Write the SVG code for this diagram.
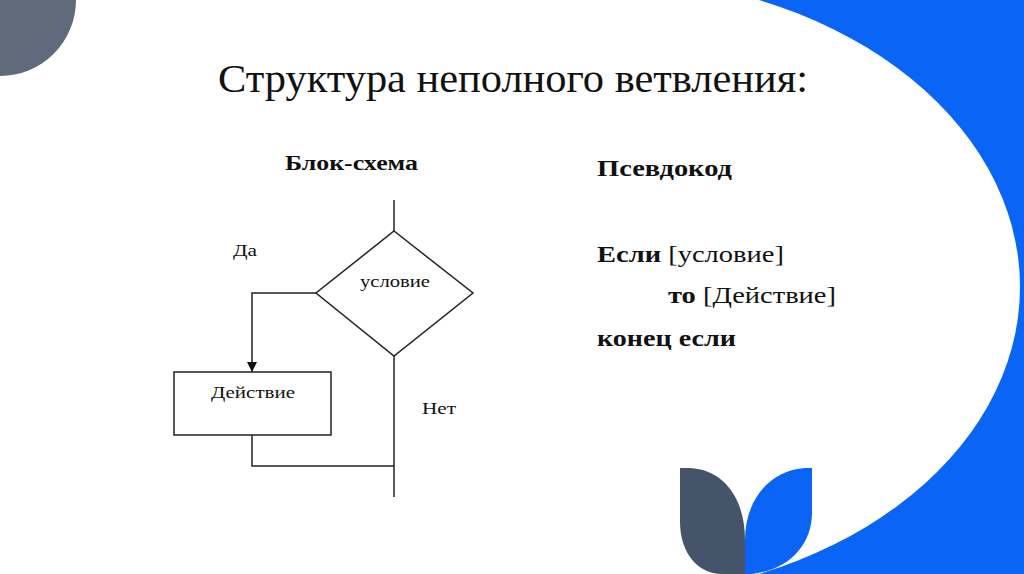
<svg xmlns="http://www.w3.org/2000/svg" width="1024" height="574" viewBox="0 0 1024 574">
<style>
.t{font-family:"Liberation Serif",serif;fill:#111}
.b{font-weight:bold}
.ln{stroke:#222;stroke-width:1.5;fill:none}
.sh{stroke:#222;stroke-width:1.5;fill:#fff}
</style>
<defs><marker id="ar" markerWidth="10" markerHeight="10" refX="10" refY="5" orient="auto" markerUnits="userSpaceOnUse"><path d="M0,0 L10,5 L0,10 Z" fill="#111"/></marker></defs>
<rect width="1024" height="574" fill="#fff"/>
<rect x="650" y="0" width="374" height="574" fill="#0a64f5"/>
<ellipse cx="600" cy="287" rx="420" ry="310" fill="#fff"/>
<rect x="0" y="0" width="650" height="574" fill="#fff"/>
<path d="M0,0 H76 A76,76 0 0 1 0,76 Z" fill="#5f6b7a"/>
<path d="M680,468 H690 C725,470 745,500 745,540 V574 H722 C697,574 680,552 680,522 Z" fill="#465469"/>
<path d="M812,468 V512 C812,546 788,570 752,574 H745 V540 C745,500 770,470 805,468 Z" fill="#0a64f5"/>
<text class="t" x="218" y="92" font-size="41" textLength="590" lengthAdjust="spacingAndGlyphs">Структура неполного ветвления:</text>
<text class="t b" x="285" y="170" font-size="20" textLength="133" lengthAdjust="spacingAndGlyphs">Блок-схема</text>
<g id="connectors">
<line class="ln" x1="394" y1="200" x2="394" y2="231"/>
<line class="ln" x1="394" y1="356" x2="394" y2="497"/>
<polyline class="ln" points="316,293 252,293 252,372" marker-end="url(#ar)"/>
<polyline class="ln" points="252,435 252,466 394,466"/>
</g>
<g id="cond"><polygon class="sh" points="394,231 473,293 394,356 316,293"/><text class="t" x="360" y="287" font-size="16" textLength="70" lengthAdjust="spacingAndGlyphs">условие</text></g>
<g id="action"><rect class="sh" x="174" y="372" width="157" height="63"/><text class="t" x="211" y="398" font-size="17" textLength="84" lengthAdjust="spacingAndGlyphs">Действие</text></g>
<g id="labels"><text class="t" x="233" y="256" font-size="16" textLength="24" lengthAdjust="spacingAndGlyphs">Да</text><text class="t" x="422" y="414" font-size="17" textLength="34" lengthAdjust="spacingAndGlyphs">Нет</text></g>
<g id="pseudo" font-size="23">
<text class="t b" x="597" y="176" textLength="135" lengthAdjust="spacingAndGlyphs">Псевдокод</text>
<text class="t" x="597" y="262" textLength="187" lengthAdjust="spacingAndGlyphs"><tspan class="b">Если</tspan> [условие]</text>
<text class="t" x="668" y="303" textLength="168" lengthAdjust="spacingAndGlyphs"><tspan class="b">то</tspan> [Действие]</text>
<text class="t b" x="597" y="346" textLength="139" lengthAdjust="spacingAndGlyphs">конец если</text>
</g>
</svg>
